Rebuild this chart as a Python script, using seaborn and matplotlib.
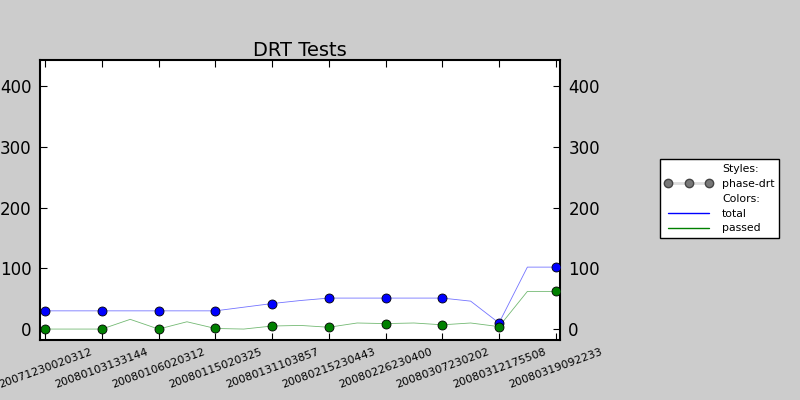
import numpy as np
import pandas as pd
import matplotlib
matplotlib.use("Agg")
import matplotlib.pyplot as plt
import seaborn as sns
from matplotlib.lines import Line2D

##### DATA
runIds = ["20071230020312", "20080103133144", "20080106020312", "20080115020325",
          "20080131103857", "20080215230443", "20080226230400", "20080307230202",
          "20080312175508", "20080319092233"]
# one value per run step (markers sit on the even steps, one per run id)
totalCounts = [30, 30, 30, 30, 30, 30, 30, 36, 42, 47, 51, 51, 51, 51, 51, 46, 10, 102, 102]
passedCounts = [0, 0, 0, 16, 0, 12, 1, 0, 5, 6, 3, 10, 9, 10, 7, 10, 4, 62, 62]
yTicks = [0, 100, 200, 300, 400]

steps = np.arange(len(totalCounts))
df = pd.DataFrame({"step": steps, "total": totalCounts, "passed": passedCounts})
marks = df[df["step"] % 2 == 0]

##### PLOT
sns.set_style("white")
plt.rcParams["font.family"] = ["DejaVu Sans"]
plt.rcParams["text.color"] = "black"
plt.rcParams["xtick.color"] = "black"
plt.rcParams["ytick.color"] = "black"

fig = plt.figure(figsize=(8, 4), dpi=100, facecolor="#cccccc")
ax = fig.add_axes([0.05, 0.15, 0.65, 0.70])
ax.set_facecolor("white")

#thin faint lines on every step
sns.lineplot(x="step", y="total", data=df, ax=ax, color="blue", alpha=0.55, linewidth=0.6)
sns.lineplot(x="step", y="passed", data=df, ax=ax, color="green", alpha=0.55, linewidth=0.6)
#dots at the tagged runs
sns.scatterplot(x="step", y="total", data=marks, ax=ax, color="blue", s=42,
                edgecolor="black", linewidth=0.6, zorder=3)
sns.scatterplot(x="step", y="passed", data=marks, ax=ax, color="green", s=42,
                edgecolor="black", linewidth=0.6, zorder=3)

ax.set_xlim(-0.18, 18.15)
ax.set_ylim(-18, 443)
ax.set_xticks(marks["step"])
ax.set_xticklabels(runIds, rotation=20, ha="center", fontsize=8, color="black")
ax.set_yticks(yTicks)
ax.tick_params(axis="y", labelsize=12, labelright=True, right=True, left=True,
               direction="in", length=5, width=0.8, pad=6, colors="black")
ax.tick_params(axis="x", top=True, bottom=True, direction="in", length=5, width=0.8,
               pad=5, colors="black")
ax.set_xlabel("")
ax.set_ylabel("")
for s in ax.spines.values():
    s.set_linewidth(1.5)
    s.set_color("black")
ax.set_title("DRT Tests", fontsize=14, pad=3, color="black")

#legend: style block then colour block
handles = [Line2D([], [], linestyle="none"),
           Line2D([], [], color="#dddddd", linewidth=2, marker="o", markersize=6,
                  markerfacecolor="#777777", markeredgecolor="#444444"),
           Line2D([], [], linestyle="none"),
           Line2D([], [], color="blue", linewidth=1),
           Line2D([], [], color="green", linewidth=1)]
labels = ["Styles:", "phase-drt", "Colors:", "total", "passed"]
leg = fig.legend(handles, labels, loc="upper left", bbox_to_anchor=(0.818, 0.616),
                 fontsize=7.8, numpoints=3, frameon=True, fancybox=False,
                 edgecolor="black", facecolor="white", handlelength=4.4,
                 labelspacing=0.45, borderpad=0.45, handletextpad=0.9)
leg.get_frame().set_linewidth(1)
leg.get_frame().set_alpha(1)

plt.savefig("out.png", dpi=100, facecolor=fig.get_facecolor())
